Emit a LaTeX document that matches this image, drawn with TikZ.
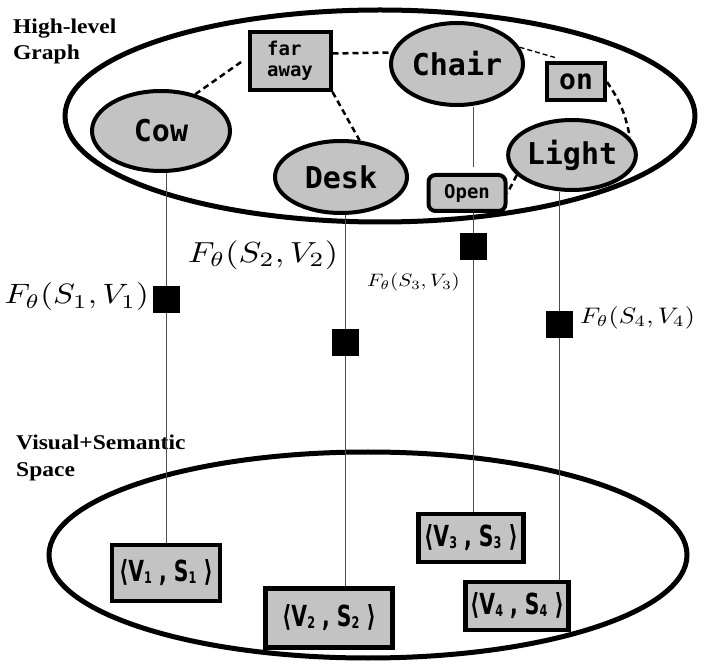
\documentclass[tikz,border=0pt]{standalone}
\usepackage{fontspec}
\setmainfont{Liberation Serif}
\setmonofont{DejaVu Sans Mono}
\newfontfamily\condfont[FakeStretch=0.78]{DejaVu Sans Condensed}
\usetikzlibrary{shapes.geometric}
\definecolor{boxgray}{HTML}{C3C3C3}
\newcommand{\fs}[1]{\fontsize{#1}{#1}\selectfont}
\newcommand{\sbx}[1]{\raisebox{-2pt}{\fs{16}#1}}
\newcommand{\fmath}[3]{\scalebox{#1}[#2]{$F_\theta(S_{#3},V_{#3})$}}
\newcommand{\wide}[1]{\scalebox{1.12}[1]{#1}}
\begin{document}
\begin{tikzpicture}[x=1pt,y=-1pt,
  big/.style={ellipse, draw, line width=5pt, inner sep=0},
  obj/.style={ellipse, draw, line width=4pt, fill=boxgray, inner sep=0,
    font=\ttfamily\bfseries\fs{30}},
  rel/.style={rectangle, draw, line width=4pt, fill=boxgray, inner sep=0,
    font=\ttfamily\bfseries\fs{19}},
  pairbox/.style={rectangle, draw, line width=4.5pt, fill=boxgray, inner sep=0,
    font=\condfont\bfseries\fs{29}},
  link/.style={line width=2.5pt, dash pattern=on 6pt off 4pt},
  thinlink/.style={line width=1.3pt, dash pattern=on 5pt off 3pt},
  vline/.style={draw=black!70, line width=0.8pt},
  fsq/.style={rectangle, fill=black, minimum width=27pt, minimum height=27pt, inner sep=0},
  heading/.style={font=\bfseries\fs{21}, anchor=base west, inner sep=0}
]
\useasboundingbox (0,0) rectangle (713,668);
\fill[white] (0,0) rectangle (713,668);

% big ellipses
\node[big, minimum width=630pt, minimum height=212pt] (hg) at (380,116) {};
\node[big, minimum width=638pt, minimum height=206pt] (vs) at (368,555) {};

% titles
\node[heading] (t1a) at (13,34) {\wide{High-level}};
\node[heading] (t1b) at (13,60) {\wide{Graph}};
\node[heading] (t2a) at (16,450) {\wide{Visual+Semantic}};
\node[heading] (t2b) at (16,477) {\wide{Space}};

% positions of the function squares
\coordinate (s1) at (166,300);
\coordinate (s2) at (345,343);
\coordinate (s3) at (473,247);
\coordinate (s4) at (559,325);

% object nodes
\node[obj, minimum width=138pt, minimum height=80pt] (cow) at (161,131) {Cow};
\node[obj, minimum width=132pt, minimum height=72pt] (desk) at (341,177) {Desk};
\node[obj, minimum width=132pt, minimum height=82pt] (chair) at (457,64) {Chair};
\node[obj, minimum width=106pt, minimum height=70pt] (light) at (572,155) {Light};

% relation nodes
\node[rel, minimum width=81pt, minimum height=58pt, align=left] (far) at (290,61) {far\\[2pt]away};
\node[rel, minimum width=58pt, minimum height=37pt, font=\ttfamily\bfseries\fs{28}] (on) at (576,82) {on};
\node[rel, minimum width=77pt, minimum height=36pt, rounded corners=7pt] (open) at (467,193) {Open};

% pair boxes
\node[pairbox, minimum width=108pt, minimum height=56pt] (p1) at (166,573) {⟨V\sbx{1} , S\sbx{1} ⟩};
\node[pairbox, minimum width=127pt, minimum height=59pt] (p2) at (329,618) {⟨V\sbx{2} , S\sbx{2} ⟩};
\node[pairbox, minimum width=105pt, minimum height=48pt] (p3) at (471,538) {⟨V\sbx{3} , S\sbx{3} ⟩};
\node[pairbox, minimum width=103pt, minimum height=48pt] (p4) at (517,606) {⟨V\sbx{4} , S\sbx{4} ⟩};

% vertical connectors
\draw[vline] (s1 |- cow.south) -- (s1 |- p1.north);
\draw[vline] (s2 |- desk.south) -- (s2 |- p2.north);
\draw[vline] (s3 |- chair.south) -- ([yshift=6pt]s3 |- open.north);
\draw[vline] (s3 |- open.south) -- (s3 |- p3.north);
\draw[vline] (s4 |- light.south) -- (s4 |- p4.north);

% black squares
\node[fsq] (q1) at (s1) {};
\node[fsq] (q2) at (s2) {};
\node[fsq] (q3) at (s3) {};
\node[fsq] (q4) at (s4) {};

% dashed relation links
\draw[link] (cow.47) -- ([xshift=-5pt]far.west);
\draw[link] (far.south east) -- (desk.63);
\draw[link] (far.10) -- (chair.170);
\draw[thinlink] (chair.15) -- ([xshift=10pt,yshift=4pt]on.north west);
\draw[link] (on.east) to[bend left=12] (light.17);
\draw[link] (light.200) -- (open.east);

% function labels
\node[anchor=east, inner sep=0] (l1) at (149,297) {\fmath{3.27}{2.8}{1}};
\node[anchor=west, inner sep=0] (l2) at (188,255) {\fmath{3.4}{2.9}{2}};
\node[anchor=west, inner sep=0] (l3) at (367,282) {\fmath{2.1}{1.8}{3}};
\node[anchor=west, inner sep=0] (l4) at (580,318) {\fmath{2.6}{2.25}{4}};
\end{tikzpicture}
\end{document}
